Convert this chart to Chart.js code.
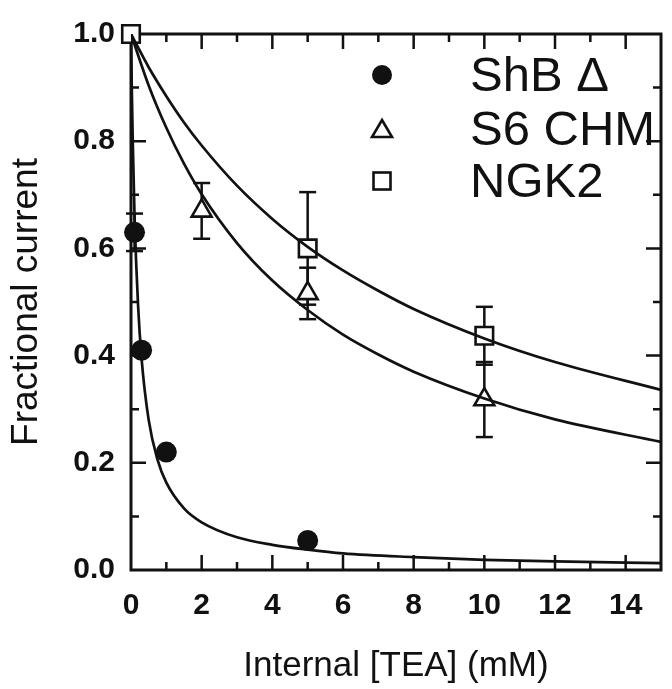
<!DOCTYPE html>
<html>
<head>
<meta charset="utf-8">
<script src="https://cdn.jsdelivr.net/npm/chart.js@4.4.1/dist/chart.umd.min.js"></script>
<style>
    html, body { margin: 0; padding: 0; background: #fff; overflow: hidden; }
    /* the right-hand axis of the figure sits just past the crop, so the canvas is a few px wider */
    #wrap { width: 672px; height: 689px; overflow: hidden; }
</style>
</head>
<body>
<div id="wrap"><canvas id="chart" width="676" height="689"></canvas></div>
<script>
// Fractional current vs internal TEA, three channel constructs

const xTickLabels = [0, 2, 4, 6, 8, 10, 12, 14];
const yTickLabels = [0.0, 0.2, 0.4, 0.6, 0.8, 1.0];

// measured points (mM, fraction) and error bar half-widths
const shbX = [0.1, 0.3, 1, 5];
const shbY = [0.63, 0.41, 0.22, 0.055];
const shbErr = [0.035, 0, 0, 0];

const s6X = [2, 5, 10];
const s6Y = [0.67, 0.516, 0.318];
const s6Err = [0.052, 0.048, 0.07];

const ngkX = [0, 5, 10];
const ngkY = [1.0, 0.60, 0.437];
const ngkErr = [0, 0.105, 0.054];

// fitted curves
const shbFitX = [0, 0.02, 0.05, 0.1, 0.2, 0.3, 0.5, 0.75, 1, 1.5, 2, 3, 4, 5, 6, 8, 10, 12, 15];
const shbFitY = [1, 0.907, 0.80, 0.66, 0.494, 0.394, 0.28, 0.206, 0.163, 0.115, 0.089, 0.061, 0.047, 0.038, 0.031, 0.024, 0.019, 0.016, 0.013];
const s6FitX = [0, 0.5, 1, 1.5, 2, 3, 4, 5, 6, 7, 8, 10, 12, 15];
const s6FitY = [1, 0.904, 0.825, 0.758, 0.701, 0.610, 0.540, 0.485, 0.439, 0.402, 0.370, 0.320, 0.281, 0.239];
const ngkFitX = [0, 0.5, 1, 1.5, 2, 3, 4, 5, 6, 7, 8, 10, 12, 15];
const ngkFitY = [1, 0.938, 0.884, 0.835, 0.792, 0.717, 0.655, 0.603, 0.559, 0.521, 0.487, 0.432, 0.388, 0.336];

const seriesLabels = ['ShB \u0394', 'S6 CHM', 'NGK2'];

const INK = '#111';
Chart.defaults.font.family = "'Liberation Sans', Arial, Helvetica, sans-serif";
Chart.defaults.color = INK;

function toPoints(xs, ys) {
    return xs.map((x, i) => ({ x: x, y: ys[i] }));
}

// vertical bars, broken apart with null points
function errorPoints(xs, ys, errs) {
    const pts = [];
    xs.forEach((x, i) => {
        if (errs[i] > 0) {
            pts.push({ x: x, y: ys[i] - errs[i] }, { x: x, y: ys[i] + errs[i] }, { x: x, y: null });
        }
    });
    return pts;
}

function curve(xs, ys) {
    return {
        data: toPoints(xs, ys),
        showLine: true,
        borderColor: INK,
        borderWidth: 2.7,
        pointRadius: 0,
        cubicInterpolationMode: 'monotone',
        order: 0
    };
}

function errorBars(xs, ys, errs) {
    return {
        data: errorPoints(xs, ys, errs),
        showLine: true,
        spanGaps: false,
        borderColor: INK,
        borderWidth: 2.5,
        pointStyle: 'line',
        pointRadius: 8.5,
        pointBorderWidth: 2.5,
        pointBorderColor: INK,
        order: 2,
        clip: false
    };
}

// box round the plot with inward ticks on all four sides
const frameTicks = {
    id: 'frameTicks',
    beforeDatasetsDraw(chart) {
        const { ctx, chartArea: a, scales: { x, y } } = chart;
        ctx.save();
        ctx.strokeStyle = INK;
        ctx.lineWidth = 3;
        ctx.strokeRect(a.left, a.top, a.right - a.left, a.bottom - a.top);
        ctx.lineWidth = 2.5;
        ctx.beginPath();
        for (let v = 1; v < 15; v++) {
            const px = x.getPixelForValue(v);
            const len = v % 2 === 0 ? 15 : 8;
            ctx.moveTo(px, a.bottom); ctx.lineTo(px, a.bottom - len);
            ctx.moveTo(px, a.top); ctx.lineTo(px, a.top + len);
        }
        for (let k = 1; k < 10; k++) {
            const py = y.getPixelForValue(k / 10);
            const len = k % 2 === 0 ? 15 : 8;
            ctx.moveTo(a.left, py); ctx.lineTo(a.left + len, py);
            ctx.moveTo(a.right, py); ctx.lineTo(a.right - len, py);
        }
        ctx.stroke();
        ctx.restore();
    }
};

// symbol key in the upper right of the plot
const symbolKey = {
    id: 'symbolKey',
    afterDraw(chart) {
        const ctx = chart.ctx;
        const mx = 382, tx = 470;
        const rows = [75, 129, 181];
        ctx.save();
        ctx.strokeStyle = INK;
        ctx.fillStyle = INK;
        ctx.lineWidth = 2.6;

        // filled circle
        ctx.beginPath();
        ctx.arc(mx, rows[0], 10, 0, Math.PI * 2);
        ctx.fill();

        // open triangle
        ctx.beginPath();
        ctx.moveTo(mx, rows[1] - 9);
        ctx.lineTo(mx + 10, rows[1] + 8);
        ctx.lineTo(mx - 10, rows[1] + 8);
        ctx.closePath();
        ctx.stroke();

        // open square
        ctx.strokeRect(mx - 8.5, rows[2] - 8.5, 17, 17);

        ctx.font = "49px 'Liberation Sans', Arial, sans-serif";
        ctx.textBaseline = 'middle';
        seriesLabels.forEach((label, i) => {
            ctx.fillText(label, tx, rows[i] + 2);
        });
        ctx.restore();
    }
};

new Chart(document.getElementById('chart'), {
    type: 'scatter',
    data: {
        datasets: [
            curve(shbFitX, shbFitY),
            curve(s6FitX, s6FitY),
            curve(ngkFitX, ngkFitY),
            {
                label: seriesLabels[0],
                data: toPoints(shbX, shbY),
                pointStyle: 'circle',
                pointRadius: 10.5,
                backgroundColor: INK,
                borderColor: INK,
                borderWidth: 0,
                order: 1,
                clip: false
            },
            {
                label: seriesLabels[1],
                data: toPoints(s6X, s6Y),
                pointStyle: 'triangle',
                pointRadius: 11.5,
                backgroundColor: '#fff',
                borderColor: INK,
                borderWidth: 2.6,
                order: 1,
                clip: false
            },
            {
                label: seriesLabels[2],
                data: toPoints(ngkX, ngkY),
                pointStyle: 'rect',
                pointRadius: 12.4,
                backgroundColor: '#fff',
                borderColor: INK,
                borderWidth: 2.6,
                order: 1,
                clip: false
            },
            errorBars(shbX, shbY, shbErr),
            errorBars(s6X, s6Y, s6Err),
            errorBars(ngkX, ngkY, ngkErr)
        ]
    },
    options: {
        responsive: false,
        animation: false,
        events: [],
        layout: { padding: { top: 25, right: 1, bottom: 0, left: 0 } },
        plugins: {
            legend: { display: false },
            tooltip: { enabled: false }
        },
        scales: {
            x: {
                type: 'linear',
                min: 0,
                max: 15,
                afterBuildTicks: function(scale) {
                    scale.ticks = xTickLabels.map(v => ({ value: v }));
                },
                afterFit: function(scale) { scale.height = 119; },
                grid: { display: false, drawTicks: false },
                border: { display: false },
                ticks: {
                    font: { size: 30, weight: 'bold' },
                    padding: 18,
                    maxRotation: 0,
                    autoSkip: false
                },
                title: {
                    display: true,
                    text: 'Internal [TEA] (mM)',
                    font: { size: 35 },
                    padding: { top: 0, bottom: 2 }
                }
            },
            y: {
                type: 'linear',
                min: 0,
                max: 1,
                afterBuildTicks: function(scale) {
                    scale.ticks = yTickLabels.map(v => ({ value: v }));
                },
                afterFit: function(scale) { scale.width = 131; },
                grid: { display: false, drawTicks: false },
                border: { display: false },
                ticks: {
                    font: { size: 30, weight: 'bold' },
                    padding: 16,
                    callback: function(value) { return value.toFixed(1); }
                },
                title: {
                    display: true,
                    text: 'Fractional current',
                    font: { size: 37 },
                    padding: { top: 5, bottom: 0 }
                }
            }
        }
    },
    plugins: [frameTicks, symbolKey]
});
</script>
</body>
</html>
